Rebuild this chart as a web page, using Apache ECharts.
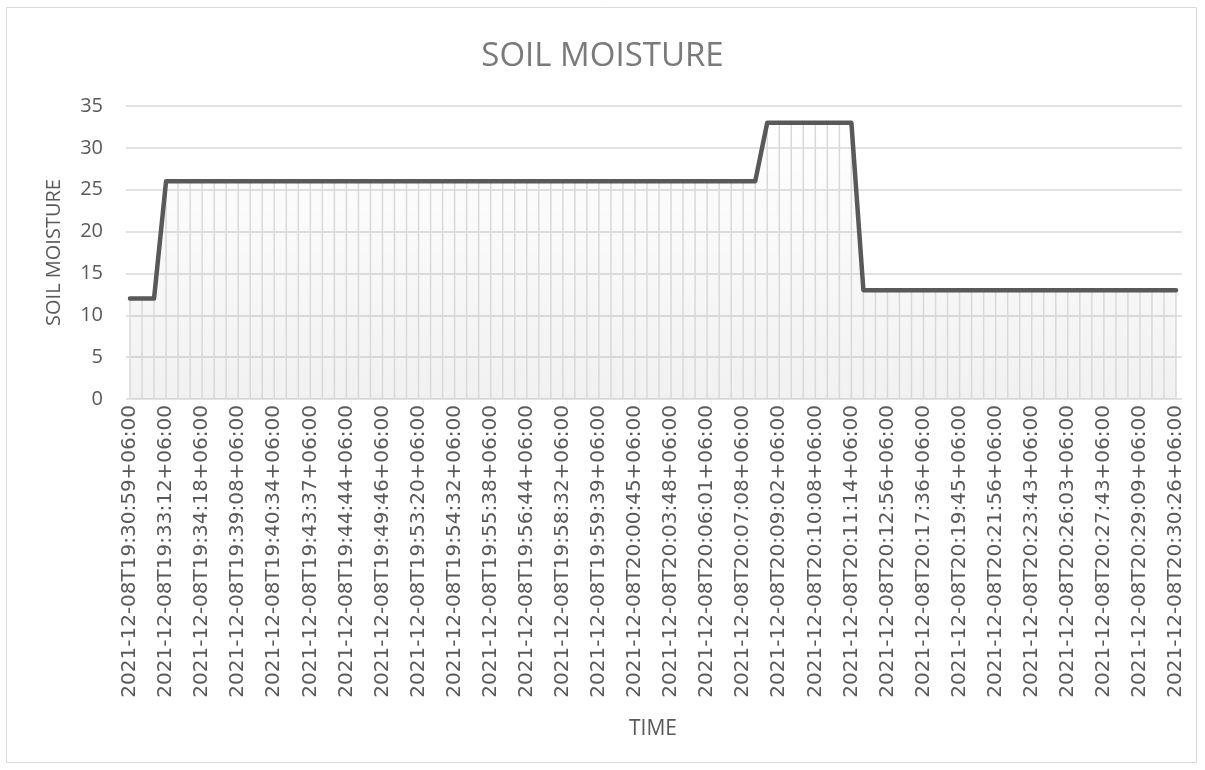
<!DOCTYPE html>
<html>
<head>
<meta charset="utf-8">
<title>Soil Moisture</title>
<script src="https://cdn.jsdelivr.net/npm/echarts@6/dist/echarts.min.js"></script>
<style>
  html, body { margin: 0; padding: 0; background: #ffffff; }
  #chart { width: 1205px; height: 770px; }
</style>
</head>
<body>
<div id="chart"></div>
<script>
// Reading times (clock part of the timestamp, all on 2021-12-08, UTC+06:00)
const times = [
  '19:30:59','19:31:43','19:32:28','19:33:12','19:33:34','19:33:56','19:34:18','19:35:55','19:37:31','19:39:08',
  '19:39:37','19:40:05','19:40:34','19:41:35','19:42:36','19:43:37','19:43:59','19:44:22','19:44:44','19:46:25',
  '19:48:05','19:49:46','19:50:57','19:52:09','19:53:20','19:53:44','19:54:08','19:54:32','19:54:54','19:55:16',
  '19:55:38','19:56:00','19:56:22','19:56:44','19:57:20','19:57:56','19:58:32','19:58:54','19:59:17','19:59:39',
  '20:00:01','20:00:23','20:00:45','20:01:46','20:02:47','20:03:48','20:04:32','20:05:17','20:06:01','20:06:23',
  '20:06:46','20:07:08','20:07:46','20:08:24','20:09:02','20:09:24','20:09:46','20:10:08','20:10:30','20:10:52',
  '20:11:14','20:11:48','20:12:22','20:12:56','20:14:29','20:16:03','20:17:36','20:18:19','20:19:02','20:19:45',
  '20:20:29','20:21:12','20:21:56','20:22:32','20:23:07','20:23:43','20:24:30','20:25:16','20:26:03','20:26:36',
  '20:27:10','20:27:43','20:28:12','20:28:40','20:29:09','20:29:35','20:30:00','20:30:26'
];

// Soil moisture reading at each time
const moisture = [
  12, 12, 12,
  26, 26, 26, 26, 26, 26, 26, 26, 26, 26,
  26, 26, 26, 26, 26, 26, 26, 26, 26, 26,
  26, 26, 26, 26, 26, 26, 26, 26, 26, 26,
  26, 26, 26, 26, 26, 26, 26, 26, 26, 26,
  26, 26, 26, 26, 26, 26, 26, 26, 26, 26,
  33, 33, 33, 33, 33, 33, 33, 33,
  13, 13, 13, 13, 13, 13, 13, 13, 13, 13,
  13, 13, 13, 13, 13, 13, 13, 13, 13, 13,
  13, 13, 13, 13, 13, 13, 13
];

// Y axis ticks
const yTicks = [0, 5, 10, 15, 20, 25, 30, 35];

const categories = times.map(t => '2021-12-08T' + t + '+06:00');

const textGray = '#595959';
const gridGray = '#d9d9d9';
const sansFont = '"Open Sans", "Liberation Sans", sans-serif';

const chart = echarts.init(document.getElementById('chart'), null, { renderer: 'canvas' });

chart.setOption({
  animation: false,
  backgroundColor: '#ffffff',
  title: {
    text: 'SOIL MOISTURE',
    left: 'center',
    top: 35,
    textStyle: { fontFamily: sansFont, fontSize: 33, fontWeight: 'normal', color: '#7a7a7a' }
  },
  graphic: [{
    type: 'rect',
    shape: { x: 6.5, y: 7.5, width: 1190, height: 755 },
    style: { fill: 'none', stroke: '#d9d9d9', lineWidth: 1 },
    silent: true
  }],
  grid: [
    // frame carrying the value gridlines
    { left: 126, right: 23, top: 106, bottom: 371 },
    // frame carrying the readings
    { left: 130, right: 29, top: 106, bottom: 371 }
  ],
  xAxis: [
    { gridIndex: 0, type: 'value', min: 0, max: 1, show: false },
    {
      gridIndex: 1,
      type: 'category',
      data: categories,
      boundaryGap: false,
      name: 'TIME',
      nameLocation: 'middle',
      nameGap: 320,
      nameTextStyle: { fontFamily: sansFont, fontSize: 21, color: textGray },
      axisLine: { show: false },
      axisTick: { show: false },
      splitLine: { show: false },
      axisLabel: {
        interval: 2,
        rotate: 90,
        margin: 6,
        fontFamily: '"DejaVu Sans", sans-serif',
        fontSize: 20,
        color: textGray
      }
    }
  ],
  yAxis: [
    {
      gridIndex: 0,
      type: 'value',
      min: yTicks[0],
      max: yTicks[yTicks.length - 1],
      interval: 5,
      name: 'SOIL MOISTURE',
      nameLocation: 'middle',
      nameGap: 62,
      nameRotate: 90,
      nameTextStyle: { fontFamily: sansFont, fontSize: 20, color: textGray },
      axisLine: { show: false },
      axisTick: { show: false },
      axisLabel: { margin: 23, fontFamily: sansFont, fontSize: 20, color: textGray },
      splitLine: { show: true, lineStyle: { color: gridGray, width: 1.5 } }
    },
    {
      gridIndex: 1,
      type: 'value',
      min: yTicks[0],
      max: yTicks[yTicks.length - 1],
      interval: 5,
      show: false,
      splitLine: { show: false }
    }
  ],
  series: [
    {
      // shaded region under the readings
      type: 'line',
      xAxisIndex: 1,
      yAxisIndex: 1,
      data: moisture,
      symbol: 'none',
      silent: true,
      lineStyle: { width: 0, opacity: 0 },
      areaStyle: {
        color: {
          type: 'linear', x: 0, y: 0, x2: 0, y2: 1,
          colorStops: [
            { offset: 0, color: 'rgba(0,0,0,0.0)' },
            { offset: 1, color: 'rgba(0,0,0,0.08)' }
          ]
        }
      },
      z: 1
    },
    {
      // drop lines from each reading down to zero
      type: 'bar',
      xAxisIndex: 1,
      yAxisIndex: 1,
      data: moisture,
      barWidth: 1.5,
      silent: true,
      itemStyle: { color: gridGray },
      z: 2
    },
    {
      type: 'line',
      xAxisIndex: 1,
      yAxisIndex: 1,
      data: moisture,
      symbol: 'none',
      lineStyle: { color: '#595959', width: 4.5, join: 'round', cap: 'round' },
      z: 3
    }
  ]
});
</script>
</body>
</html>
